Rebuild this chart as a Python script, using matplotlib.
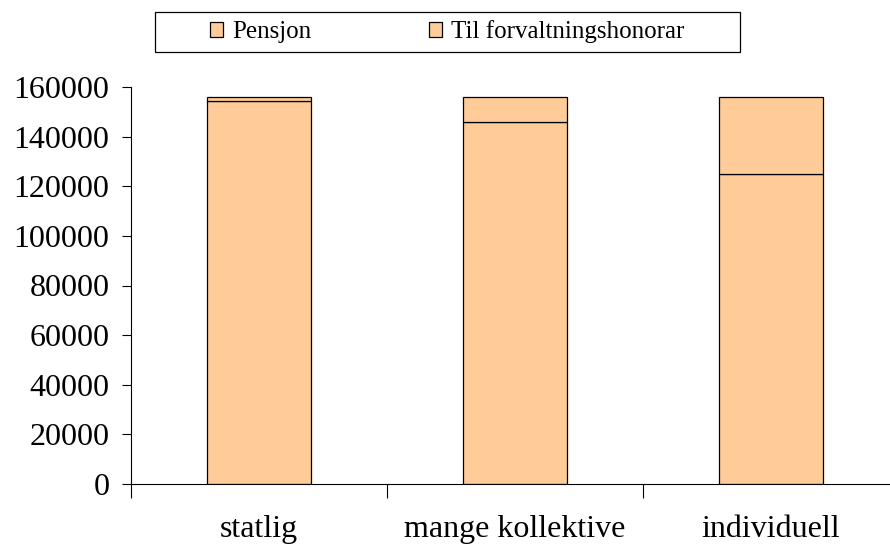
import numpy as np
import matplotlib
matplotlib.use('Agg')
from matplotlib import pyplot as plt
from matplotlib.patches import Rectangle

categories = ['statlig', 'mange kollektive', 'individuell']
pensjon = [154500, 145700, 124800]
forvaltning = [1300, 10100, 31000]

plt.rcParams['font.family'] = ['Liberation Serif', 'DejaVu Serif']

fig = plt.figure(figsize=(8.9, 5.45), dpi=100)
ax = fig.add_axes([131/890, 61/545, 768/890, 397/545])

x = np.arange(len(categories))
fill = '#FFCC99'
ax.bar(x, pensjon, width=0.405, color=fill, edgecolor='black', linewidth=0.9, label='Pensjon')
ax.bar(x, forvaltning, width=0.405, bottom=pensjon, color=fill, edgecolor='black',
       linewidth=0.9, label='Til forvaltningshonorar')

ax.set_xlim(-0.5, 2.5)
ax.set_ylim(0, 160000)
ax.set_yticks(np.arange(0, 160001, 20000))
ax.tick_params(axis='y', labelsize=23, length=6.5, width=0.8, pad=9)

ax.set_xticks([-0.5, 0.5, 1.5, 2.5])
ax.set_xticklabels([])
ax.tick_params(axis='x', which='major', length=10, width=0.8)
ax.set_xticks(x, minor=True)
ax.set_xticklabels(categories, minor=True)
ax.tick_params(axis='x', which='minor', length=0, labelsize=23, pad=22)

for s in ['top', 'right']:
    ax.spines[s].set_visible(False)
ax.spines['left'].set_linewidth(0.8)
ax.spines['bottom'].set_linewidth(0.8)

# legend box drawn separately, entries centred inside it
fig.patches.append(Rectangle((155/890, 1-52/545), 585/890, 40/545, transform=fig.transFigure,
                             fill=False, edgecolor='black', linewidth=0.9))
leg = fig.legend(loc='center', bbox_to_anchor=(447/890, 1-32/545), ncol=2, fontsize=18,
                 frameon=False, handlelength=0.55, handleheight=0.55,
                 handletextpad=0.35, columnspacing=4.7, borderaxespad=0, borderpad=0)

fig.savefig('out.png', dpi=100)
